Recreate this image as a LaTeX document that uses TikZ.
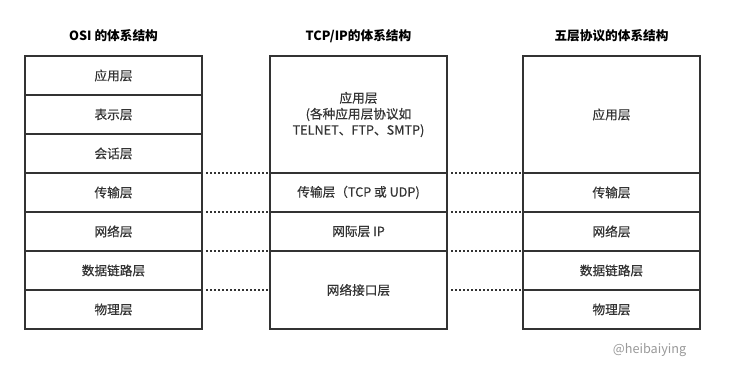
\documentclass[tikz,border=0pt]{standalone}
\usepackage{fontspec}
\setmainfont{Noto Sans CJK SC}
\newfontfamily\layerfont{Noto Sans CJK SC}[FakeBold=0.5]
\usetikzlibrary{positioning}
\definecolor{linegray}{HTML}{333333}
\definecolor{markgray}{HTML}{999999}
\tikzset{
  layer/.style={draw=linegray, line width=1.5pt, minimum width=132.75pt,
    minimum height=29.25pt, inner sep=0pt, outer sep=0pt, text=linegray,
    font=\fontsize{9.5pt}{12pt}\layerfont, align=center},
  tall/.style={layer, minimum height=87.75pt},
  double/.style={layer, minimum height=58.5pt},
  title/.style={font=\fontsize{9.5pt}{12pt}\selectfont\bfseries, text=black},
  dotline/.style={draw=linegray, line width=1.5pt, dash pattern=on 1.5pt off 1.5pt, shorten <=3pt}
}
\begin{document}
\begin{tikzpicture}[x=0.75pt, y=-0.75pt]
  \useasboundingbox (0,0) rectangle (736,374);

%titles
  \coordinate (osiTop) at (113.5,56);
  \coordinate (tcpTop) at (358.5,56);
  \coordinate (fiveTop) at (611.5,56);
  \node[title] (osiTitle) at (113.5,36) {OSI 的体系结构};
  \node[title] (tcpTitle) at (358.5,36) {TCP/IP的体系结构};
  \node[title] (fiveTitle) at (611.5,36) {五层协议的体系结构};

%OSI
  \node[layer, below=0pt of osiTop] (osiA) {应用层};
  \node[layer, below=0pt of osiA] (osiP) {表示层};
  \node[layer, below=0pt of osiP] (osiS) {会话层};
  \node[layer, below=0pt of osiS] (osiT) {传输层};
  \node[layer, below=0pt of osiT] (osiN) {网络层};
  \node[layer, below=0pt of osiN] (osiD) {数据链路层};
  \node[layer, below=0pt of osiD] (osiH) {物理层};

%TCP/IP
  \node[tall, below=0pt of tcpTop] (tcpA) {应用层\\(各种应用层协议如\\TELNET、FTP、SMTP)};
  \node[layer, below=0pt of tcpA] (tcpT) {传输层（TCP 或 UDP)};
  \node[layer, below=0pt of tcpT] (tcpN) {网际层 IP};
  \node[double, below=0pt of tcpN] (tcpI) {网络接口层};

%five
  \node[tall, below=0pt of fiveTop] (fiveA) {应用层};
  \node[layer, below=0pt of fiveA] (fiveT) {传输层};
  \node[layer, below=0pt of fiveT] (fiveN) {网络层};
  \node[layer, below=0pt of fiveN] (fiveD) {数据链路层};
  \node[layer, below=0pt of fiveD] (fiveH) {物理层};

%dots
  \draw[dotline] (osiS.south east) -- (tcpA.south west);
  \draw[dotline] (osiT.south east) -- (tcpT.south west);
  \draw[dotline] (osiN.south east) -- (tcpN.south west);
  \draw[dotline] (osiD.south east) -- (tcpI.west);
  \draw[dotline] (tcpA.south east) -- (fiveA.south west);
  \draw[dotline] (tcpT.south east) -- (fiveT.south west);
  \draw[dotline] (tcpN.south east) -- (fiveN.south west);
  \draw[dotline] (tcpI.east) -- (fiveD.south west);

  \node[text=markgray, font=\fontsize{9.5pt}{12pt}\selectfont, anchor=east] (mark) at (691,350) {@heibaiying};
\end{tikzpicture}
\end{document}
